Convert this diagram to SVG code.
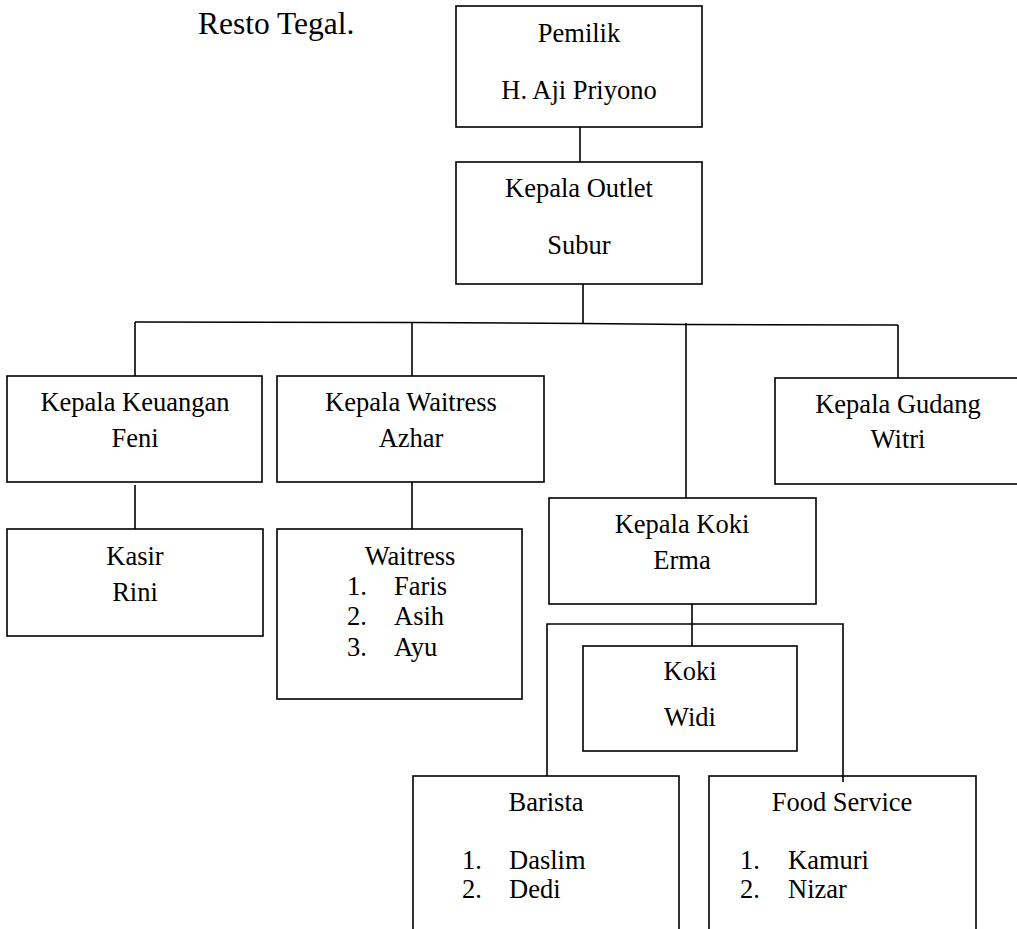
<svg xmlns="http://www.w3.org/2000/svg" width="1017" height="929" viewBox="0 0 1017 929">
<style>
.box{fill:#fff;stroke:#000;stroke-width:1.6}
.ln{fill:none;stroke:#000;stroke-width:1.6}
text{font-family:"Liberation Serif","Times New Roman",serif;font-size:26.5px;fill:#000}
.c{text-anchor:middle}
</style>
<rect width="1017" height="929" fill="#fff"/>
<text x="198" y="34" style="font-size:31.5px">Resto Tegal.</text>
<g id="connectors">
<line class="ln" x1="580" y1="127" x2="580" y2="162"/>
<line class="ln" x1="583" y1="283" x2="583" y2="323"/>
<polyline class="ln" points="135,322 412,322.5 583,323.5 686,324.5 898,325"/>
<line class="ln" x1="135" y1="322" x2="135" y2="376"/>
<line class="ln" x1="412" y1="322.5" x2="412" y2="376"/>
<line class="ln" x1="686" y1="323" x2="686" y2="498"/>
<line class="ln" x1="898" y1="325" x2="898" y2="379"/>
<line class="ln" x1="135" y1="485" x2="135" y2="529"/>
<line class="ln" x1="412" y1="482" x2="412" y2="529"/>
<line class="ln" x1="692" y1="604" x2="692" y2="646"/>
<polyline class="ln" points="547,776 547,624 843,624 843,781"/>
</g>
<g id="pemilik"><rect class="box" x="456" y="6" width="246" height="121"/>
<text class="c" x="579" y="42">Pemilik</text><text class="c" x="579" y="99">H. Aji Priyono</text></g>
<g id="kepala-outlet"><rect class="box" x="456" y="162" width="246" height="122"/>
<text class="c" x="579" y="197">Kepala Outlet</text><text class="c" x="579" y="254">Subur</text></g>
<g id="kepala-keuangan"><rect class="box" x="7" y="376" width="255" height="106"/>
<text class="c" x="135" y="411">Kepala Keuangan</text><text class="c" x="135" y="447">Feni</text></g>
<g id="kepala-waitress"><rect class="box" x="277" y="376" width="267" height="106"/>
<text class="c" x="411" y="411">Kepala Waitress</text><text class="c" x="411" y="447">Azhar</text></g>
<g id="kepala-gudang"><rect class="box" x="775" y="378" width="246" height="106"/>
<text class="c" x="898" y="413">Kepala Gudang</text><text class="c" x="898" y="448">Witri</text></g>
<g id="kasir"><rect class="box" x="7" y="529" width="256" height="107"/>
<text class="c" x="135" y="565">Kasir</text><text class="c" x="135" y="601">Rini</text></g>
<g id="waitress"><rect class="box" x="277" y="529" width="245" height="170"/>
<text class="c" x="410" y="565">Waitress</text>
<text x="347" y="595">1.</text><text x="394" y="595">Faris</text>
<text x="347" y="625">2.</text><text x="394" y="625">Asih</text>
<text x="347" y="656">3.</text><text x="394" y="656">Ayu</text></g>
<g id="kepala-koki"><rect class="box" x="549" y="498" width="267" height="106"/>
<text class="c" x="682" y="533">Kepala Koki</text><text class="c" x="682" y="569">Erma</text></g>
<g id="koki"><rect class="box" x="583" y="646" width="214" height="105"/>
<text class="c" x="690" y="680">Koki</text><text class="c" x="690" y="726">Widi</text></g>
<g id="barista"><rect class="box" x="413" y="776" width="266" height="170"/>
<text class="c" x="546" y="811">Barista</text>
<text x="462" y="869">1.</text><text x="509" y="869">Daslim</text>
<text x="462" y="898">2.</text><text x="509" y="898">Dedi</text></g>
<g id="food-service"><rect class="box" x="709" y="776" width="267" height="170"/>
<text class="c" x="842" y="811">Food Service</text>
<text x="740" y="869">1.</text><text x="788" y="869">Kamuri</text>
<text x="740" y="898">2.</text><text x="788" y="898">Nizar</text></g>
<line class="ln" x1="843" y1="776" x2="843" y2="782"/>
</svg>
